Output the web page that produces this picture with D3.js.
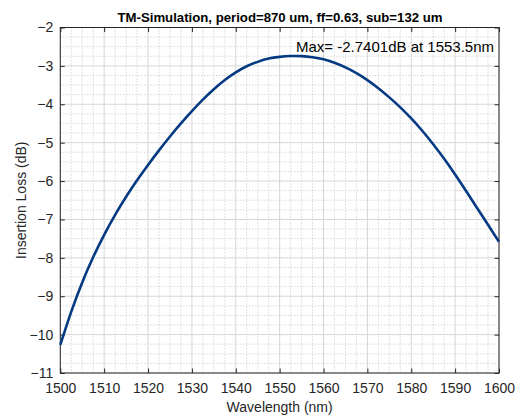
<!DOCTYPE html>
<html>
<head>
<meta charset="utf-8">
<script src="https://cdn.jsdelivr.net/npm/d3@7"></script>
<style>
  html, body { margin: 0; padding: 0; background: #fff; }
  svg { display: block; font-family: "Liberation Sans", Arial, Helvetica, sans-serif; }
</style>
</head>
<body>
<svg id="chart" width="520" height="419"></svg>
<script>
// ---- data ----
const wavelength = [1500, 1502.5, 1505, 1507.5, 1510, 1512.5, 1515, 1517.5, 1520, 1522.5, 1525, 1527.5,
  1530, 1532.5, 1535, 1537.5, 1540, 1542.5, 1545, 1547.5, 1550, 1552.5, 1555, 1557.5, 1560,
  1562.5, 1565, 1567.5, 1570, 1572.5, 1575, 1577.5, 1580, 1582.5, 1585, 1587.5, 1590, 1592.5, 1595,
  1597.5, 1600];
const insertionLoss = [-10.27, -9.40, -8.64, -7.98, -7.40, -6.88, -6.41, -5.98, -5.58, -5.20, -4.84, -4.50,
  -4.18, -3.88, -3.61, -3.37, -3.17, -3.01, -2.895, -2.81, -2.765, -2.743, -2.746, -2.775, -2.83,
  -2.92, -3.04, -3.19, -3.37, -3.58, -3.82, -4.08, -4.37, -4.69, -5.04, -5.42, -5.83, -6.26, -6.70,
  -7.14, -7.58];
const xTicks = [1500, 1510, 1520, 1530, 1540, 1550, 1560, 1570, 1580, 1590, 1600];
const yTicks = [-11, -10, -9, -8, -7, -6, -5, -4, -3, -2];
const titleText = "TM-Simulation, period=870 um, ff=0.63, sub=132 um";
const xLabel = "Wavelength (nm)";
const yLabel = "Insertion Loss (dB)";
const maxLabel = "Max= -2.7401dB at 1553.5nm";
const maxPos = [1553.5, -2.5];

// ---- layout ----
const L = 60.3, R = 499, T = 27.5, B = 373;
const svg = d3.select("#chart");
const x = d3.scaleLinear().domain([1500, 1600]).range([L, R]);
const y = d3.scaleLinear().domain([-11, -2]).range([B, T]);
const axisColor = "#262626";

// minor grid (dotted)
const xMinor = d3.range(1500, 1600.01, 2.5).filter(v => v % 10 !== 0);
const yMinor = d3.range(-11, -1.99, 0.25).filter(v => Math.abs(v - Math.round(v)) > 1e-6);
const g = svg.append("g");
g.selectAll(".xm").data(xMinor).join("line")
  .attr("x1", d => x(d)).attr("x2", d => x(d)).attr("y1", T).attr("y2", B)
  .attr("stroke", "#b8b8b8").attr("stroke-width", 0.8).attr("stroke-dasharray", "1,2");
g.selectAll(".ym").data(yMinor).join("line")
  .attr("y1", d => y(d)).attr("y2", d => y(d)).attr("x1", L).attr("x2", R)
  .attr("stroke", "#b8b8b8").attr("stroke-width", 0.8).attr("stroke-dasharray", "1,2");
// major grid
g.selectAll(".xg").data(xTicks).join("line")
  .attr("x1", d => x(d)).attr("x2", d => x(d)).attr("y1", T).attr("y2", B)
  .attr("stroke", "#d6d6d6").attr("stroke-width", 1);
g.selectAll(".yg").data(yTicks).join("line")
  .attr("y1", d => y(d)).attr("y2", d => y(d)).attr("x1", L).attr("x2", R)
  .attr("stroke", "#d6d6d6").attr("stroke-width", 1);

// axes (ticks inward)
const tickLen = 4.5;
const xAxisB = d3.axisBottom(x).tickValues(xTicks).tickSize(-tickLen).tickPadding(10).tickFormat(d3.format("d"));
const xAxisT = d3.axisTop(x).tickValues(xTicks).tickSize(-tickLen).tickFormat("");
const yAxisL = d3.axisLeft(y).tickValues(yTicks).tickSize(-tickLen).tickPadding(7).tickFormat(d3.format("d"));
const yAxisR = d3.axisRight(y).tickValues(yTicks).tickSize(-tickLen).tickFormat("");

function style(sel) {
  sel.select(".domain").remove();
  sel.selectAll("line").attr("stroke", axisColor).attr("stroke-width", 1);
  sel.selectAll("text").attr("fill", axisColor).attr("font-size", 14)
    .attr("font-family", "'Liberation Sans', Arial, sans-serif");
}
svg.append("g").attr("transform", `translate(0,${B})`).call(xAxisB).call(style);
svg.append("g").attr("transform", `translate(0,${T})`).call(xAxisT).call(style);
svg.append("g").attr("transform", `translate(${L},0)`).call(yAxisL).call(style);
svg.append("g").attr("transform", `translate(${R},0)`).call(yAxisR).call(style);
svg.append("rect").attr("x", L).attr("y", T).attr("width", R - L).attr("height", B - T)
  .attr("fill", "none").attr("stroke", axisColor).attr("stroke-width", 1);

// data line
const line = d3.line().x((d, i) => x(wavelength[i])).y(d => y(d)).curve(d3.curveCatmullRom.alpha(0.5));
svg.append("path").datum(insertionLoss).attr("d", line)
  .attr("fill", "none").attr("stroke", "#053a82").attr("stroke-width", 2.6);

// texts
svg.append("text").attr("x", 280).attr("y", 22).attr("text-anchor", "middle")
  .attr("font-size", 13.2).attr("font-weight", "bold").attr("fill", "#000").text(titleText);
svg.append("text").attr("x", (L + R) / 2).attr("y", 412).attr("text-anchor", "middle")
  .attr("font-size", 14).attr("fill", axisColor).text(xLabel);
svg.append("text").attr("transform", `translate(26,${(T + B) / 2}) rotate(-90)`).attr("text-anchor", "middle")
  .attr("font-size", 14).attr("fill", axisColor).text(yLabel);
svg.append("text").attr("x", x(maxPos[0]) + 1).attr("y", y(maxPos[1])).attr("dy", "0.35em")
  .attr("font-size", 15).attr("fill", "#000").text(maxLabel);
</script>
</body>
</html>
